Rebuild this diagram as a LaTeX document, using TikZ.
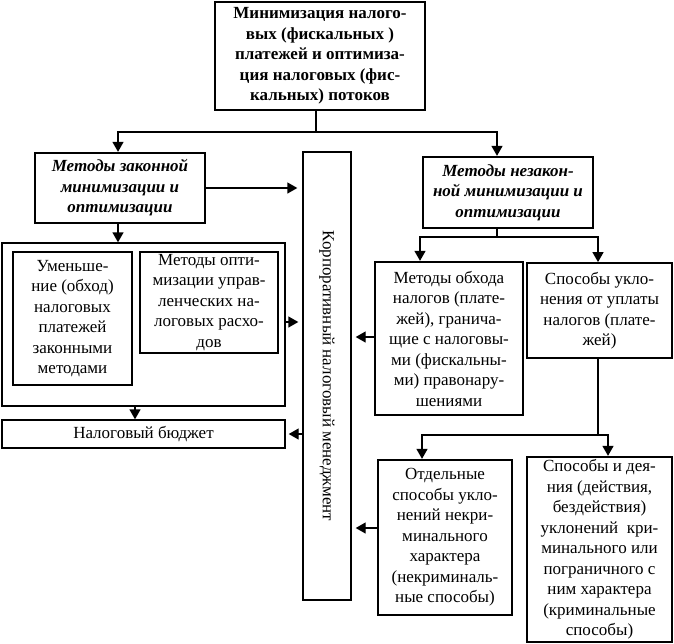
\documentclass[tikz,border=0pt]{standalone}
\usepackage{fontspec}
\setmainfont{Liberation Serif}
\usetikzlibrary{arrows.meta,calc}
\newcommand\myfs{\fontsize{17}{20.5}\selectfont}
\begin{document}
\begin{tikzpicture}[x=1pt,y=-1pt,
  box/.style={draw, line width=1.4pt, align=center, inner sep=0pt, font=\myfs},
  thickbox/.style={box, line width=2.3pt},
  sized/.style 2 args={minimum width=#1pt, minimum height=#2pt},
  conn/.style={line width=1.4pt},
  arr/.style={conn, -{Triangle[length=10pt,width=11pt]}}]
\useasboundingbox (0,0) rectangle (674,643);

\node[thickbox, sized={210}{108}, font=\myfs\bfseries] (top) at (320,56)
  {Минимизация налого-\\вых (фискальных )\\платежей и оптимиза-\\ция налоговых (фис-\\кальных) потоков};

\node[thickbox, sized={170}{70}, font=\myfs\bfseries\itshape] (lm) at (120,188)
  {Методы законной\\минимизации и\\оптимизации};
\node[thickbox, sized={170}{71}, font=\myfs\bfseries\itshape] (rm) at (508,192.5)
  {Методы незакон-\\ной минимизации и\\оптимизации};

\node[box, sized={283}{163}] (big) at (143.5,324.5) {};
\node[box, sized={119}{133}] (in1) at (72.5,318.5)
  {Уменьше-\\ние (обход)\\налоговых\\платежей\\законными\\методами};
\node[box, sized={138}{101}] (in2) at (209,302.5)
  {Методы опти-\\мизации управ-\\ленческих на-\\логовых расхо-\\дов};
\node[box, sized={283}{28}] (bud) at (143.5,434) {Налоговый бюджет};

\node[box, sized={48}{448}] (corp) at (327,376) {};
\node[font=\myfs, rotate=-90] (corpt) at (corp.center) {Корпоративный налоговый менеджмент};

\node[thickbox, sized={148}{153}] (obh) at (449,338.5)
  {Методы обхода\\налогов (плате-\\жей), гранича-\\щие с налоговы-\\ми (фискальны-\\ми) правонару-\\шениями};
\node[thickbox, sized={145}{95}, line width=1.8pt] (ukl) at (599.5,310.5)
  {Способы укло-\\нения от уплаты\\налогов (плате-\\жей)};
\node[thickbox, sized={134}{155}] (otd) at (445,537.5)
  {Отдельные\\способы укло-\\нений некри-\\минального\\характера\\(некриминаль-\\ные способы)};
\node[thickbox, sized={145}{185}] (dey) at (599.5,549.5)
  {Способы и дея-\\ния (действия,\\бездействия)\\уклонений\ \ кри-\\минального или\\пограничного с\\ним характера\\(криминальные\\способы)};

% top splitter
\coordinate (j1) at (316,132);
\coordinate (j1l) at (118,132);
\coordinate (j1r) at (497,132);
\draw[conn] (top.south -| j1) -- (j1);
\draw[arr] (j1) -- (j1l) -- (lm.north -| j1l);
\draw[arr] (j1) -- (j1r) -- (rm.north -| j1r);

% left side
\draw[arr, shorten >=5pt] (lm.east) -- (lm.east -| corp.west);
\draw[arr] (lm.south -| j1l) -- (big.north -| j1l);
\coordinate (bx) at (285,322);
\draw[arr, shorten >=4pt] (big.east |- bx) -- (corp.west |- bx);
\coordinate (bd) at (135,0);
\draw[arr] (big.south -| bd) -- (bud.north -| bd);
\draw[arr, shorten >=3pt] (corp.west |- bud.east) -- (bud.east);

% right side splitter 1
\coordinate (j2) at (497,237);
\coordinate (j2l) at (420,237);
\coordinate (j2r) at (598,237);
\draw[conn] (rm.south -| j2) -- (j2);
\draw[arr] (j2) -- (j2l) -- (obh.north -| j2l);
\draw[arr] (j2) -- (j2r) -- (ukl.north -| j2r);

\coordinate (ob) at (0,337);
\draw[arr, shorten >=4pt] (obh.west |- ob) -- (corp.east |- ob);

% right side splitter 2
\coordinate (j3) at (598,435);
\coordinate (j3l) at (422,435);
\coordinate (j3r) at (608,435);
\draw[conn] (ukl.south -| j3) -- (j3);
\draw[arr] (j3) -- (j3l) -- (otd.north -| j3l);
\draw[arr] (j3) -- (j3r) -- (dey.north -| j3r);

\coordinate (ot) at (0,528);
\draw[arr, shorten >=4pt] (otd.west |- ot) -- (corp.east |- ot);
\end{tikzpicture}
\end{document}
